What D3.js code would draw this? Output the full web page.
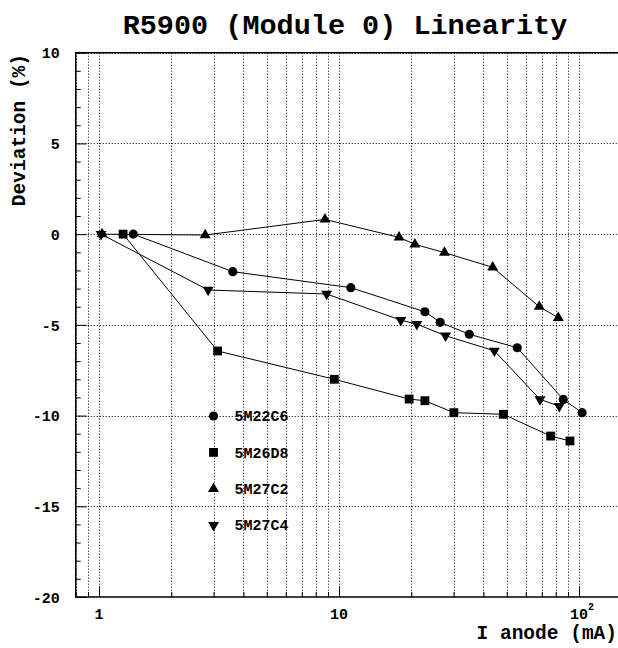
<!doctype html>
<html>
  <head>
    <meta charset="utf-8">
    <title>R5900 (Module 0) Linearity</title>
    <script src="https://cdnjs.cloudflare.com/ajax/libs/d3/7.8.5/d3.min.js"></script>
    <style>
      body { margin: 0; background: #fff; }
      svg { display: block; }
      text { font-family: "Liberation Mono", "DejaVu Sans Mono", monospace; font-weight: bold; fill: #000; }
    </style>
  </head>
  <body>
    <div id="root"></div>
    <script>
      // series names (legend order)
      let names = ['5M22C6', '5M26D8', '5M27C2', '5M27C4'];

      // I anode (mA) / deviation (%)
      let x22C6 = [1.39, 3.61, 11.2, 22.8, 26.4, 34.9, 55.3, 86.0, 103];
      let y22C6 = [0.0, -2.07, -2.95, -4.28, -4.86, -5.52, -6.26, -9.11, -9.84];

      let x26D8 = [1.26, 3.12, 9.56, 19.6, 22.8, 30.1, 48.4, 76.2, 91.7];
      let y26D8 = [0.0, -6.44, -8.0, -9.09, -9.18, -9.84, -9.93, -11.13, -11.4];

      let x27C2 = [1.03, 2.77, 8.74, 17.8, 20.7, 27.5, 43.7, 68.3, 82.0];
      let y27C2 = [0.0, -0.05, 0.81, -0.18, -0.56, -1.02, -1.83, -4.0, -4.61];

      let x27C4 = [1.02, 2.85, 8.88, 18.1, 21.1, 27.8, 44.4, 68.8, 82.8];
      let y27C4 = [0.0, -3.08, -3.30, -4.74, -4.96, -5.60, -6.43, -9.11, -9.48];

      let yMajor = [10, 5, 0, -5, -10, -15, -20];
      let xLabels = [1, 10];

      let width = 618, height = 648;

      let svg = d3.select('#root')
        .append('svg')
        .attr('width', width)
        .attr('height', height);

      // log x axis : 1 -> 99px, 10 -> 339px (frame runs off the right side)
      let xScale = d3.scaleLog()
        .domain([0.8, 200])
        .range([99 + 240 * Math.log10(0.8), 99 + 240 * Math.log10(200)]);

      let yScale = d3.scaleLinear()
        .domain([-20, 10])
        .range([597, 52.7]);

      let x0 = xScale(0.8), x1 = xScale(200);
      let yTop = yScale(10), yBot = yScale(-20);

      // grid values for the log axis
      let xGrid = [];
      [0.1, 1, 10, 100].forEach(dec => {
        for (let k = 1; k <= 9; k++) {
          let v = dec * k;
          if (v >= 0.8 && v <= 200) xGrid.push(v);
        }
      });

      //Dotted grid lines
      let grid = svg.append('g')
        .attr('stroke', '#000')
        .attr('stroke-width', 1)
        .attr('stroke-dasharray', '1,2')
        .attr('fill', 'none');

      grid.selectAll('.vgrid')
        .data(xGrid)
        .enter()
        .append('line')
        .attr('x1', d => Math.round(xScale(d)) + 0.5)
        .attr('x2', d => Math.round(xScale(d)) + 0.5)
        .attr('y1', yTop)
        .attr('y2', yBot);

      grid.selectAll('.hgrid')
        .data(yMajor.filter(d => d > -20))
        .enter()
        .append('line')
        .attr('x1', x0)
        .attr('x2', x1)
        .attr('y1', d => Math.round(yScale(d)) + 0.5)
        .attr('y2', d => Math.round(yScale(d)) + 0.5);

      //Frame
      svg.append('rect')
        .attr('x', x0)
        .attr('y', yTop)
        .attr('width', x1 - x0)
        .attr('height', yBot - yTop)
        .attr('fill', 'none')
        .attr('stroke', '#000')
        .attr('stroke-width', 1.5);

      //Y axis ticks (major every 5, minor every 1)
      let yAxis = d3.axisRight(yScale)
        .tickValues(d3.range(-20, 11, 1))
        .tickSize(5)
        .tickFormat('');
      let yAxisG = svg.append('g')
        .attr('transform', 'translate(' + x0 + ',0)')
        .call(yAxis);
      yAxisG.select('.domain').remove();
      yAxisG.selectAll('.tick line')
        .attr('x2', d => d % 5 === 0 ? 11 : 5)
        .attr('stroke', '#000');

      yAxisG.selectAll('.tick')
        .filter(d => d % 5 === 0)
        .append('text')
        .attr('x', -16)
        .attr('dy', '0.35em')
        .attr('text-anchor', 'end')
        .attr('font-size', 15)
        .text(d => d === 0 ? '0' : d3.format('d')(d).replace('\u2212', '-'));

      //X axis ticks
      let xAxis = d3.axisTop(xScale)
        .tickValues(xGrid)
        .tickSize(5)
        .tickFormat('');
      let xAxisG = svg.append('g')
        .attr('transform', 'translate(0,' + yBot + ')')
        .call(xAxis);
      xAxisG.select('.domain').remove();
      xAxisG.selectAll('.tick line')
        .attr('y2', d => [1, 10, 100].includes(d) ? -11 : -5)
        .attr('stroke', '#000');

      svg.selectAll('.xlabel')
        .data(xLabels)
        .enter()
        .append('text')
        .attr('x', d => xScale(d))
        .attr('y', 619)
        .attr('text-anchor', 'middle')
        .attr('font-size', 15)
        .text(d => d);

      // 10^2 label
      let lab100 = svg.append('text')
        .attr('x', xScale(100) - 9)
        .attr('y', 619)
        .attr('font-size', 15);
      lab100.append('tspan').text('10');
      lab100.append('tspan')
        .attr('dy', -9)
        .attr('font-size', 10)
        .text('2');

      //Axis titles
      svg.append('text')
        .attr('x', 617)
        .attr('y', 639)
        .attr('text-anchor', 'end')
        .attr('font-size', 19.5)
        .text('I anode (mA)');

      svg.append('text')
        .attr('transform', 'translate(25,54) rotate(-90)')
        .attr('text-anchor', 'end')
        .attr('font-size', 19.5)
        .text('Deviation (%)');

      //Title
      svg.append('text')
        .attr('x', 345)
        .attr('y', 34)
        .attr('text-anchor', 'middle')
        .attr('font-size', 28.5)
        .text('R5900 (Module 0) Linearity');

      //Series
      let series = [
        {name: names[0], xs: x22C6, ys: y22C6, sym: d3.symbolCircle, size: 66, rot: 0},
        {name: names[1], xs: x26D8, ys: y26D8, sym: d3.symbolSquare, size: 78, rot: 0},
        {name: names[2], xs: x27C2, ys: y27C2, sym: d3.symbolTriangle, size: 52, rot: 0},
        {name: names[3], xs: x27C4, ys: y27C4, sym: d3.symbolTriangle, size: 52, rot: 180}
      ];

      let line = d3.line()
        .x(d => xScale(d[0]))
        .y(d => yScale(d[1]));

      series.forEach(s => {
        let pts = s.xs.map((v, i) => [v, s.ys[i]]);
        svg.append('path')
          .datum(pts)
          .attr('d', line)
          .attr('fill', 'none')
          .attr('stroke', '#000')
          .attr('stroke-width', 1);
      });

      series.forEach(s => {
        let pts = s.xs.map((v, i) => [v, s.ys[i]]);
        svg.selectAll(null)
          .data(pts)
          .enter()
          .append('path')
          .attr('d', d3.symbol().type(s.sym).size(s.size))
          .attr('transform', d => 'translate(' + xScale(d[0]) + ',' + yScale(d[1]) + ') rotate(' + s.rot + ')')
          .attr('fill', '#000');
      });

      //Legend
      let legend = svg.append('g')
        .attr('transform', 'translate(213.5,416)');
      let leg = legend.selectAll('g')
        .data(series)
        .enter()
        .append('g')
        .attr('transform', (d, i) => 'translate(0,' + i * 36.4 + ')');
      leg.append('path')
        .attr('d', d => d3.symbol().type(d.sym).size(d.size)())
        .attr('transform', d => 'rotate(' + d.rot + ')')
        .attr('fill', '#000');
      leg.append('text')
        .attr('x', 21)
        .attr('dy', '0.35em')
        .attr('font-size', 15)
        .text(d => d.name);
    </script>
  </body>
</html>
